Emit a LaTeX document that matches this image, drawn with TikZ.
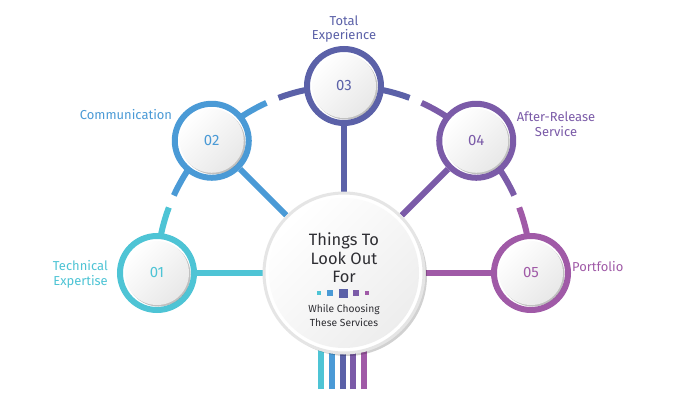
\documentclass[tikz,border=0pt]{standalone}
\usepackage{fontspec}
\setmainfont{Fira Sans}
\usetikzlibrary{shadows,calc}
\definecolor{cA}{HTML}{4EC4D5}
\definecolor{cB}{HTML}{4A9AD6}
\definecolor{cC}{HTML}{5B61A8}
\definecolor{cD}{HTML}{7B5BA8}
\definecolor{cE}{HTML}{A05AA7}
\definecolor{txt}{HTML}{2E2E33}
\pgfdeclarelayer{back}
\pgfdeclarelayer{bg}
\pgfsetlayers{back,bg,main}
\tikzset{
  ring/.style={circle, draw=#1, line width=6bp, minimum size=74bp, inner sep=0pt, fill=white},
  disc/.style={circle, minimum size=64bp, inner sep=0pt, top color=white, bottom color=black!9, shading angle=45,
     drop shadow={shadow xshift=1.5bp, shadow yshift=-1.5bp, opacity=0.35, fill=black!70},
     text=#1, font=\fontsize{15}{15}\selectfont},
  lbl/.style={text=#1, font=\fontsize{13}{15}\selectfont, inner sep=0pt},
  spoke/.style={draw=#1, line width=6bp},
  arcseg/.style={draw=#1, line width=6bp},
  sq/.style={fill=#1, draw=none}
}
\begin{document}
\begin{tikzpicture}[x=1bp,y=1bp]
\begin{pgfonlayer}{back}
\fill[white] (0,0) rectangle (700,400);
\end{pgfonlayer}
\useasboundingbox (0,0) rectangle (700,400);
\coordinate (C) at (344,127);
\coordinate (p1) at ($(C)+(180:187bp)$);
\coordinate (p2) at ($(C)+(135:187bp)$);
\coordinate (p3) at ($(C)+(90:187bp)$);
\coordinate (p4) at ($(C)+(45:187bp)$);
\coordinate (p5) at ($(C)+(0:187bp)$);

% center circle
\node[circle, minimum size=160bp, inner sep=0pt, draw=black!10, line width=3bp, fill=white,
  drop shadow={shadow xshift=3bp, shadow yshift=-3bp, opacity=0.18, fill=black}] (center) at (C) {};
\node[circle, minimum size=150bp, inner sep=0pt, top color=white, bottom color=black!7, shading angle=45] (centerdisc) at (C) {};

% small circles
\foreach \i/\c in {1/cA,2/cB,3/cC,4/cD,5/cE}{
  \node[ring=\c] (n\i) at (p\i) {};
}
\node[disc=cA] (d1) at (p1) {01};
\node[disc=cB] (d2) at (p2) {02};
\node[disc=cC] (d3) at (p3) {03};
\node[disc=cD] (d4) at (p4) {04};
\node[disc=cE] (d5) at (p5) {05};

\begin{pgfonlayer}{bg}
  % spokes
  \draw[spoke=cA] (center) -- (n1);
  \draw[spoke=cB] (center) -- (n2);
  \draw[spoke=cC] (center) -- (n3);
  \draw[spoke=cD] (center) -- (n4);
  \draw[spoke=cE] (center) -- (n5);
  % outer arc segments
  \draw[arcseg=cA] (p1) arc[start angle=180, end angle=159.5, radius=187bp];
  \draw[arcseg=cB] ($(C)+(155.5:187bp)$) arc[start angle=155.5, end angle=135, radius=187bp];
  \draw[arcseg=cB] (p2) arc[start angle=135, end angle=114.5, radius=187bp];
  \draw[arcseg=cC] ($(C)+(110.5:187bp)$) arc[start angle=110.5, end angle=90, radius=187bp];
  \draw[arcseg=cC] (p3) arc[start angle=90, end angle=69.5, radius=187bp];
  \draw[arcseg=cD] ($(C)+(65.5:187bp)$) arc[start angle=65.5, end angle=45, radius=187bp];
  \draw[arcseg=cD] (p4) arc[start angle=45, end angle=24.5, radius=187bp];
  \draw[arcseg=cE] ($(C)+(20.5:187bp)$) arc[start angle=20.5, end angle=0, radius=187bp];
  % bottom lines
  \coordinate (b1) at (321,11); \coordinate (b2) at (332,11); \coordinate (b3) at (343,11);
  \coordinate (b4) at (353,11); \coordinate (b5) at (364,11);
  \draw[spoke=cA] (b1) -- (b1 |- center);
  \draw[spoke=cB] (b2) -- (b2 |- center);
  \draw[spoke=cC] (b3) -- (b3 |- center);
  \draw[spoke=cD] (b4) -- (b4 |- center);
  \draw[spoke=cE] (b5) -- (b5 |- center);
\end{pgfonlayer}

% center text
\node[text=txt, align=center, font=\fontsize{16.5}{18.5}\selectfont, inner sep=0pt] (title) at (344,142) {Things To\\Look Out\\For};
\node[sq=cA, minimum size=4.5bp, inner sep=0pt] (s1) at (319,107) {};
\node[sq=cB, minimum size=6bp, inner sep=0pt] (s2) at (330,107) {};
\node[sq=cC, minimum size=9bp, inner sep=0pt] (s3) at (343,107) {};
\node[sq=cD, minimum size=6bp, inner sep=0pt] (s4) at (356,107) {};
\node[sq=cE, minimum size=4.5bp, inner sep=0pt] (s5) at (367,107) {};
\node[text=txt, align=center, font=\fontsize{10.3}{13.5}\selectfont, inner sep=0pt] (sub) at (344,84.5) {While Choosing\\These Services};

% labels
\node[lbl=cA, align=right, anchor=east] (l1) at (108,126) {Technical\\Expertise};
\node[lbl=cB] (l2) at (126,285) {Communication};
\node[lbl=cC, align=center] (l3) at (344,371) {Total\\Experience};
\node[lbl=cD, align=center] (l4) at (556,276) {After-Release\\Service};
\node[lbl=cE, anchor=west] (l5) at (572,133) {Portfolio};
\end{tikzpicture}
\end{document}
